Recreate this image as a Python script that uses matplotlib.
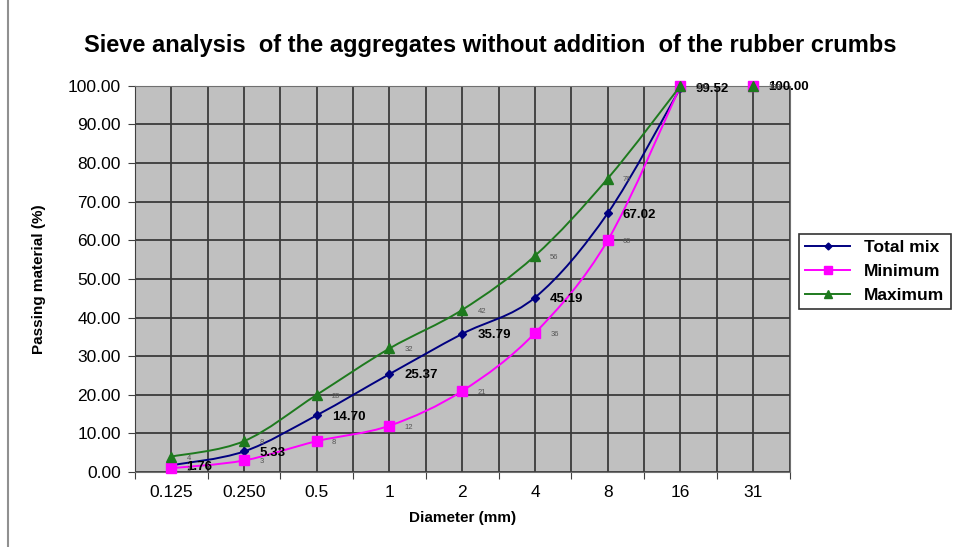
import numpy as np
import matplotlib
matplotlib.use('Agg')
import matplotlib.pyplot as plt
from matplotlib.path import Path
from matplotlib.patches import PathPatch
from matplotlib.lines import Line2D

plt.rcParams['font.family'] = ['Liberation Sans', 'DejaVu Sans']

# sieve sizes and passing percentages
sieves = ['0.125', '0.250', '0.5', '1', '2', '4', '8', '16', '31']
total_mix = [1.76, 5.33, 14.70, 25.37, 35.79, 45.19, 67.02, 99.52, 100.00]
minimum = [1, 3, 8, 12, 21, 36, 60, 100, 100]
maximum = [4, 8, 20, 32, 42, 56, 76, 100, 100]
yticks = [0, 10, 20, 30, 40, 50, 60, 70, 80, 90, 100]
n_line = 8  # the smoothed lines stop at the 16 mm sieve


def smooth_path(xs, ys):
    # Excel-style smoothed line: cubic bezier through the points (Catmull-Rom)
    pts = np.column_stack([xs, ys]).astype(float)
    n = len(pts)
    verts = [pts[0]]
    codes = [Path.MOVETO]
    for i in range(n - 1):
        p0 = pts[max(i - 1, 0)]
        p1 = pts[i]
        p2 = pts[i + 1]
        p3 = pts[min(i + 2, n - 1)]
        c1 = p1 + (p2 - p0) / 6.0
        c2 = p2 - (p3 - p1) / 6.0
        verts += [c1, c2, p2]
        codes += [Path.CURVE4] * 3
    return Path(verts, codes)


fig = plt.figure(figsize=(9.7, 5.47), dpi=100)
ax = fig.add_axes([0.139, 0.137, 0.675, 0.706])
ax.set_facecolor('#c0c0c0')

x = np.arange(len(sieves))
series = [
    ('Total mix', total_mix, '#000080', 'D', 4.5, 'bold', 9.5, 'black'),
    ('Minimum', minimum, '#ff00ff', 's', 7, 'normal', 5.5, '#555555'),
    ('Maximum', maximum, '#1e7a1e', '^', 6.5, 'normal', 5.5, '#555555'),
]

handles = []
for name, vals, col, mk, ms, fw, fs, tc in series:
    ax.add_patch(PathPatch(smooth_path(x[:n_line], vals[:n_line]), facecolor='none',
                           edgecolor=col, lw=1.4, zorder=3, clip_on=False))
    ax.plot(x, vals, ls='none', marker=mk, ms=ms, color=col, zorder=4, clip_on=False)
    for xi, v in zip(x, vals):
        lab = f'{v:.2f}' if name == 'Total mix' else f'{v:g}'
        ax.annotate(lab, (xi, v), xytext=(11, -1), textcoords='offset points',
                    ha='left', va='center', fontsize=fs, fontweight=fw, color=tc,
                    zorder=5, annotation_clip=False)
    handles.append(Line2D([0], [0], color=col, marker=mk, ms=ms - 1, lw=1.4))

ax.set_xlim(-0.5, len(sieves) - 0.5)
ax.set_ylim(0, 100)
ax.set_yticks(yticks)
ax.set_yticklabels([f'{v:.2f}' for v in yticks], fontsize=12.5)
ax.set_xticks(np.arange(-0.5, len(sieves), 1.0))
ax.set_xticklabels([])
ax.set_xticks(x, minor=True)
ax.set_xticklabels(sieves, minor=True, fontsize=12.5)
ax.tick_params(axis='x', which='major', length=5, color='#404040')
ax.tick_params(axis='x', which='minor', length=0, pad=9)
ax.tick_params(axis='y', length=5, color='#404040', pad=5)
ax.grid(True, which='both', color='#3a3a3a', lw=1.3)
ax.set_axisbelow(True)
for s in ax.spines.values():
    s.set_color('#707070')
ax.spines['left'].set_color('#404040')

ax.set_xlabel('Diameter (mm)', fontsize=11, fontweight='bold', labelpad=8)
ax.set_ylabel('Passing material (%)', fontsize=11, fontweight='bold', labelpad=16)
fig.suptitle('Sieve analysis  of the aggregates without addition  of the rubber crumbs',
             x=0.505, y=0.937, fontsize=17, fontweight='bold')

leg = fig.legend(handles, [s[0] for s in series], loc='upper left',
                 bbox_to_anchor=(0.815, 0.588), frameon=True, fancybox=False,
                 edgecolor='black', handlelength=2.6, borderpad=0.35,
                 labelspacing=0.5, prop={'weight': 'bold', 'size': 12.5})
leg.get_frame().set_linewidth(1.2)

fig.add_artist(Line2D([0.008, 0.008], [0, 1], color='#909090', lw=1.5,
                      transform=fig.transFigure))

fig.savefig('out.png', dpi=100)
